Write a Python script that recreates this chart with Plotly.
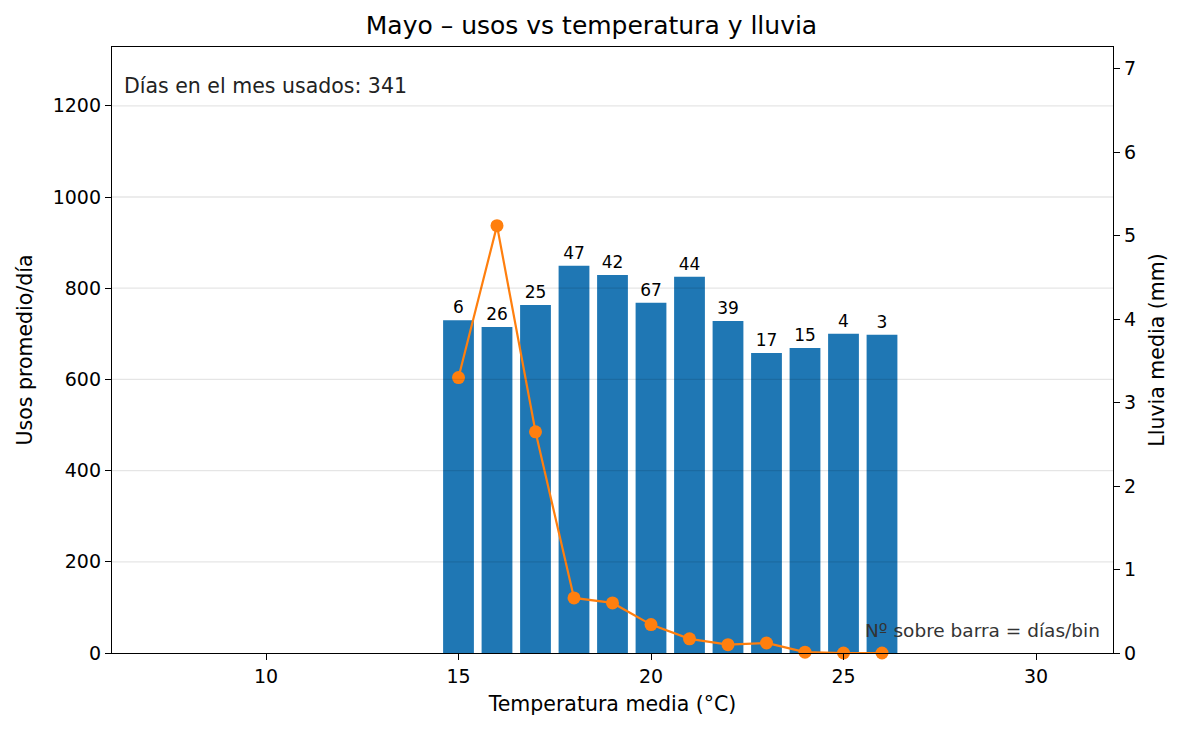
import plotly.graph_objects as go

temps = [15, 16, 17, 18, 19, 20, 21, 22, 23, 24, 25, 26]
usos = [730, 715, 763, 849, 829, 768, 825, 728, 658, 669, 700, 698]
dias = [6, 26, 25, 47, 42, 67, 44, 39, 17, 15, 4, 3]
lluvia = [3.30, 5.12, 2.65, 0.66, 0.60, 0.34, 0.17, 0.10, 0.12, 0.01, 0.0, 0.0]
x_ticks = [10, 15, 20, 25, 30]
y_ticks = [0, 200, 400, 600, 800, 1000, 1200]
y2_ticks = [0, 1, 2, 3, 4, 5, 6, 7]

FONT = "DejaVu Sans"

fig = go.Figure()
fig.add_trace(go.Bar(
    x=temps, y=usos, width=0.8, marker=dict(color="#1f77b4", line=dict(width=0)),
    text=[str(d) for d in dias], textposition="outside", cliponaxis=False,
    textfont=dict(family=FONT, size=17, color="black"), yaxis="y",
    showlegend=False,
))
fig.add_trace(go.Scatter(
    x=temps, y=lluvia, mode="lines+markers", yaxis="y2",
    line=dict(color="#ff7f0e", width=2.2), marker=dict(color="#ff7f0e", size=13),
    cliponaxis=False, showlegend=False,
))

axis_common = dict(showline=True, linecolor="black", linewidth=1.3, ticks="outside",
                   ticklen=6, tickwidth=1.3, tickcolor="black",
                   tickfont=dict(family=FONT, size=19, color="black"))

grid_shapes = [
    dict(type="line", xref="paper", yref="y", x0=0, x1=1, y0=v, y1=v, layer="above",
         line=dict(color="rgba(0,0,0,0.1)", width=1.3))
    for v in y_ticks if v > 0
]

fig.update_layout(
    width=1183, height=731,
    margin=dict(l=112, r=70, t=47, b=78),
    plot_bgcolor="white", paper_bgcolor="white",
    font=dict(family=FONT, color="black"),
    title=dict(text="Mayo – usos vs temperatura y lluvia", x=0.5, xanchor="center",
               y=1 - 25 / 731, yanchor="middle", yref="container",
               font=dict(family=FONT, size=25, color="black")),
    xaxis=dict(range=[6, 32], tickvals=x_ticks, mirror=True, showgrid=False, zeroline=False,
               title=dict(text="Temperatura media (°C)", font=dict(family=FONT, size=20.5), standoff=10),
               **axis_common),
    yaxis=dict(range=[0, 1329], tickvals=y_ticks, showgrid=False, zeroline=False,
               title=dict(text="Usos promedio/día", font=dict(family=FONT, size=20.5), standoff=14),
               **axis_common),
    yaxis2=dict(range=[0, 7.26], tickvals=y2_ticks, overlaying="y", side="right",
                showgrid=False, zeroline=False,
                title=dict(text="Lluvia media (mm)", font=dict(family=FONT, size=20.5), standoff=14),
                **axis_common),
    shapes=grid_shapes,
    annotations=[
        dict(text="Días en el mes usados: 341", xref="paper", yref="paper",
             x=0.01, y=0.936, xanchor="left", yanchor="middle", showarrow=False,
             font=dict(family=FONT, size=20.5, color="#222222")),
        dict(text="Nº sobre barra = días/bin", xref="paper", yref="paper",
             x=0.989, y=0.037, xanchor="right", yanchor="middle", showarrow=False,
             font=dict(family=FONT, size=18.5, color="#333333")),
    ],
)
fig.write_html("out.html")
